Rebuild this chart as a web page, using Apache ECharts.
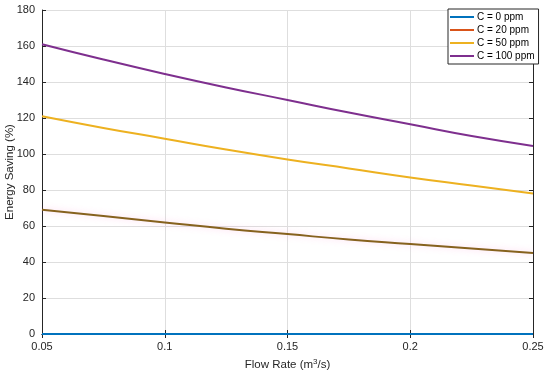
<!DOCTYPE html>
<html><head><meta charset="utf-8">
<script src="https://cdn.jsdelivr.net/npm/echarts@6/dist/echarts.min.js"></script>
<style>html,body{margin:0;padding:0;background:#fff}#c{width:550px;height:375px}</style>
</head><body><div id="c"></div>
<script>
const flowRate = [0.05, 0.075, 0.1, 0.125, 0.15, 0.175, 0.2, 0.225, 0.25];
const c0 = [0, 0, 0, 0, 0, 0, 0, 0, 0];
const c20 = [69, 65.5, 62, 58.5, 55.5, 52.5, 50, 47.5, 45];
const c50 = [121, 114.5, 108.5, 102.5, 97, 92, 87, 82.5, 78];
const c100 = [161, 152.5, 144.5, 137, 130, 123, 116.5, 110, 104.5];
const seriesNames = ['C = 0 ppm', 'C = 20 ppm', 'C = 50 ppm', 'C = 100 ppm'];
const legendColors = ['#0072BD', '#D95319', '#EDB120', '#7E2F8E'];
const lineColors = ['#0072BD', '#86621e', '#EDB120', '#7E2F8E'];
const allData = [c0, c20, c50, c100];

const font = 'Liberation Sans, Arial, Helvetica, sans-serif';
const txt = '#262626';
const axisCommon = {
  axisLine: {show: true, lineStyle: {color: '#262626', width: 1}},
  axisTick: {show: true, inside: true, length: 4, lineStyle: {color: '#262626'}},
};
const chart = echarts.init(document.getElementById('c'));
chart.setOption({
  animation: false,
  grid: {left: 42, right: 17, top: 10, bottom: 41, containLabel: false, outerBoundsMode: 'none'},
  legend: {
    orient: 'vertical', left: 448, top: 9, itemWidth: 24, itemHeight: 2, itemGap: 1, icon: 'rect',
    padding: [2, 4, 2, 2], borderColor: '#262626', borderWidth: 1, backgroundColor: '#fff',
    textStyle: {fontFamily: font, fontSize: 10, color: '#000', lineHeight: 12, padding: [0, 0, 0, -2]},
    data: seriesNames.map((n, i) => ({name: n, icon: 'rect', itemStyle: {color: legendColors[i]}}))
  },
  xAxis: [{
    type: 'value', min: 0.05, max: 0.25, interval: 0.05, ...axisCommon,
    axisLabel: {fontFamily: font, fontSize: 11, color: txt, margin: 7, formatter: v => String(+v.toFixed(2))},
    splitLine: {show: true, lineStyle: {color: '#dedede', width: 1}},
    name: '{a|Flow Rate (m}{s|3}{a|/s)}', nameLocation: 'middle', nameGap: 24, nameMoveOverlap: false,
    nameTextStyle: {rich: {a: {fontFamily: font, fontSize: 11.5, color: txt}, s: {fontFamily: font, fontSize: 8, color: txt, verticalAlign: 'top', padding: [0, 0, 6, 0]}}}
  }, {
    type: 'value', position: 'top', min: 0.05, max: 0.25, interval: 0.05, ...axisCommon,
    axisLabel: {show: false}, splitLine: {show: false}
  }],
  yAxis: [{
    type: 'value', min: 0, max: 180, interval: 20, ...axisCommon,
    axisLabel: {fontFamily: font, fontSize: 11, color: txt, margin: 7},
    splitLine: {show: true, lineStyle: {color: '#dedede', width: 1}},
    name: 'Energy Saving (%)', nameLocation: 'middle', nameGap: 26, nameMoveOverlap: false,
    nameTextStyle: {fontFamily: font, fontSize: 11.5, color: txt}
  }, {
    type: 'value', position: 'right', min: 0, max: 180, interval: 20, ...axisCommon,
    axisLabel: {show: false}, splitLine: {show: false}
  }],
  series: allData.map((d, i) => ({
    name: seriesNames[i], type: 'line', symbol: 'none', smooth: true,
    data: d.map((v, j) => [flowRate[j], v]),
    itemStyle: {color: legendColors[i]},
    lineStyle: Object.assign({color: lineColors[i], width: 2},
      i === 1 ? {shadowColor: 'rgba(255,120,200,0.35)', shadowBlur: 6} : {}),
    z: i === 0 ? 5 : 3
  }))
});
</script></body></html>
